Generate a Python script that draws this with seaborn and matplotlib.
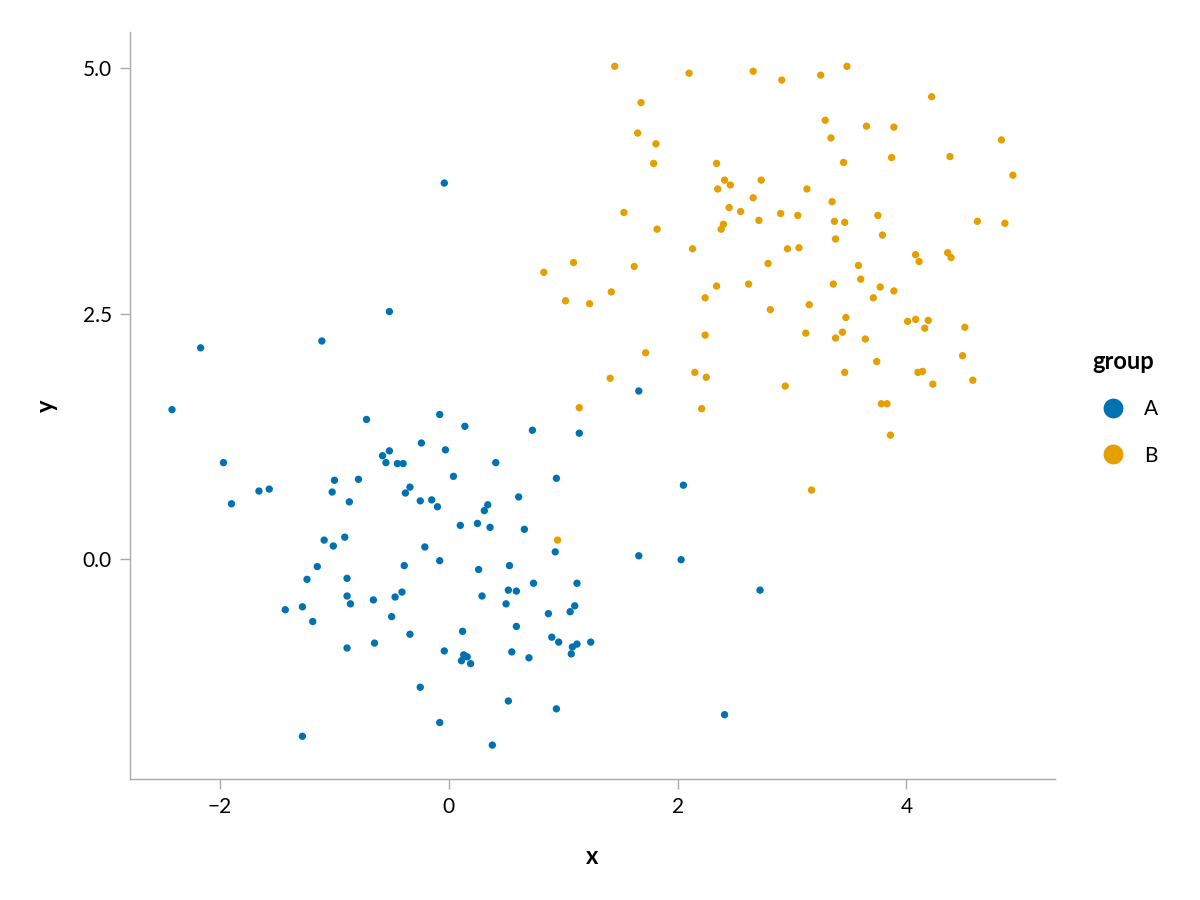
import pandas as pd
import numpy as np
import seaborn as sns
import matplotlib.pyplot as plt

# group A
xa = [-0.04, -0.52, -2.17, -1.11, -2.42, 1.66, -1.97, -1.90, -1.66, -1.57,
      -0.72, -0.08, 0.14, -0.24, -0.03, -0.52, -0.58, -0.55, -0.45, -0.40,
      -1.00, -0.79, -1.02, -0.34, -0.38, -0.87, -0.25, -0.15, -0.10, 0.04,
      0.41, 0.73, 1.14, 0.94, 0.34, 0.31, 0.61, 0.10, 0.25, 0.36,
      0.66, 2.05, -1.09, -1.01, -0.91, -0.21, -0.08, -0.39, 0.93, 1.66,
      2.03, -1.15, -1.24, -0.89, 0.26, 0.53, 0.74, 1.12, 2.72, -0.89,
      -0.66, -0.47, -0.41, 0.29, 0.52, 0.59, 0.50, -1.43, -1.28, -1.19,
      -0.86, -0.50, -0.34, 0.12, 0.59, 0.87, 1.06, 1.10, -0.89, -0.65,
      -0.04, 0.55, 0.70, 0.90, 0.96, 1.08, 1.12, 1.07, 1.24, 0.13,
      0.16, 0.11, 0.19, -0.25, 0.52, 0.94, 2.41, -0.08, -1.28, 0.38]
ya = [3.83, 2.52, 2.15, 2.22, 1.52, 1.71, 0.98, 0.56, 0.69, 0.71,
      1.42, 1.47, 1.35, 1.18, 1.11, 1.10, 1.05, 0.98, 0.97, 0.97,
      0.80, 0.81, 0.68, 0.73, 0.67, 0.58, 0.59, 0.60, 0.53, 0.84,
      0.98, 1.31, 1.28, 0.82, 0.55, 0.49, 0.63, 0.34, 0.36, 0.32,
      0.30, 0.75, 0.19, 0.13, 0.22, 0.12, -0.02, -0.07, 0.07, 0.03,
      -0.01, -0.08, -0.21, -0.20, -0.11, -0.07, -0.25, -0.25, -0.32, -0.38,
      -0.42, -0.39, -0.34, -0.38, -0.32, -0.33, -0.46, -0.52, -0.49, -0.64,
      -0.46, -0.59, -0.77, -0.74, -0.69, -0.56, -0.54, -0.48, -0.91, -0.86,
      -0.94, -0.95, -1.01, -0.80, -0.85, -0.90, -0.87, -0.97, -0.85, -0.98,
      -1.00, -1.04, -1.07, -1.31, -1.45, -1.53, -1.59, -1.67, -1.81, -1.90]

# group B
xb = [1.45, 2.10, 1.68, 1.65, 1.81, 1.79, 2.34, 2.41, 2.46, 2.35,
      2.45, 2.55, 1.53, 1.82, 2.40, 2.38, 2.13, 1.09, 1.62, 0.83,
      2.66, 2.91, 3.25, 3.48, 4.22, 3.29, 3.65, 3.89, 3.34, 4.83,
      3.45, 3.87, 4.38, 4.93, 2.73, 3.13, 2.66, 3.35, 2.90, 3.05,
      2.71, 3.37, 3.46, 3.75, 4.62, 4.86, 3.79, 3.38, 3.06, 2.96,
      2.79, 3.58, 4.08, 4.11, 4.36, 4.39, 3.60, 3.36, 3.77, 3.89,
      3.71, 2.81, 3.15, 3.47, 3.12, 3.38, 3.44, 3.64, 4.01, 4.08,
      4.19, 4.16, 4.51, 3.74, 3.46, 4.49, 4.10, 4.14, 4.58, 2.94,
      4.23, 3.78, 3.83, 3.86, 3.17, 1.02, 1.23, 1.42, 2.34, 2.24,
      2.62, 2.24, 1.72, 1.41, 2.15, 2.25, 1.14, 2.21, 0.95]
yb = [5.02, 4.95, 4.65, 4.34, 4.23, 4.03, 4.03, 3.86, 3.81, 3.77,
      3.58, 3.54, 3.53, 3.36, 3.41, 3.36, 3.16, 3.02, 2.98, 2.92,
      4.97, 4.88, 4.93, 5.02, 4.71, 4.47, 4.41, 4.40, 4.29, 4.27,
      4.04, 4.09, 4.10, 3.91, 3.86, 3.77, 3.68, 3.64, 3.52, 3.50,
      3.45, 3.44, 3.43, 3.50, 3.44, 3.42, 3.30, 3.26, 3.17, 3.16,
      3.01, 2.99, 3.10, 3.03, 3.12, 3.07, 2.85, 2.80, 2.77, 2.73,
      2.66, 2.54, 2.59, 2.46, 2.30, 2.25, 2.31, 2.24, 2.42, 2.44,
      2.43, 2.35, 2.36, 2.01, 1.90, 2.07, 1.90, 1.91, 1.82, 1.76,
      1.78, 1.58, 1.58, 1.26, 0.70, 2.63, 2.60, 2.72, 2.78, 2.66,
      2.80, 2.28, 2.10, 1.84, 1.90, 1.85, 1.54, 1.53, 0.19]

df = pd.DataFrame({
    "x": xa + xb,
    "y": ya + yb,
    "group": ["A"] * len(xa) + ["B"] * len(xb),
})

sns.set_style("white")
plt.rcParams["font.family"] = ["Lato", "DejaVu Sans"]
plt.rcParams["text.color"] = "black"
plt.rcParams["axes.labelcolor"] = "black"

fig = plt.figure(figsize=(12, 9), dpi=100)
ax = fig.add_axes([0.1083, 0.1344, 0.7708, 0.8296])

sns.scatterplot(data=df, x="x", y="y", hue="group",
                palette={"A": "#0072B2", "B": "#E69F00"},
                s=28, linewidth=0, ax=ax)
ax.margins(0.05)

ax.set_xticks([-2, 0, 2, 4])
ax.set_yticks([0.0, 2.5, 5.0])
ax.set_yticklabels(["0.0", "2.5", "5.0"])
ax.tick_params(direction="out", length=7, width=1, color="#aaaaaa",
               labelcolor="black", labelsize=15, pad=6, bottom=True, left=True)
for side in ["top", "right"]:
    ax.spines[side].set_visible(False)
for side in ["left", "bottom"]:
    ax.spines[side].set_color("#aaaaaa")
    ax.spines[side].set_linewidth(1)

ax.set_xlabel("x", fontsize=17, fontweight="bold", labelpad=20)
ax.set_ylabel("y", fontsize=17, fontweight="bold", labelpad=18)

handles, labels = ax.get_legend_handles_labels()
ax.legend(handles, labels, title="group", frameon=False,
          loc="center left", bbox_to_anchor=(1.02, 0.497),
          markerscale=2.7, fontsize=15,
          title_fontproperties={"weight": "bold", "size": 17},
          labelspacing=1.25, handletextpad=0.5, alignment="left")

fig.savefig("out.png", dpi=100)
